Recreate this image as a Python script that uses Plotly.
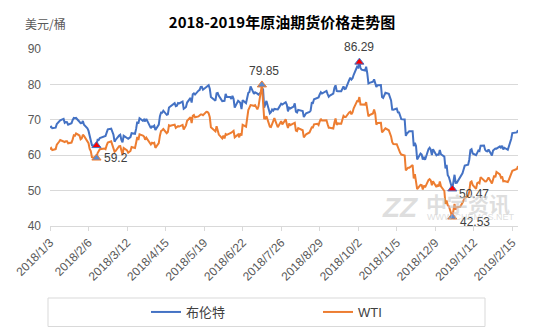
import plotly.graph_objects as go

# Daily settlement prices (USD/bbl), 2018-01-03 .. 2019-02-20
dates = [
    "2018-01-03", "2018-01-04", "2018-01-05", "2018-01-08", "2018-01-09", "2018-01-10", "2018-01-11", "2018-01-12",
    "2018-01-15", "2018-01-16", "2018-01-17", "2018-01-18", "2018-01-19", "2018-01-22", "2018-01-23", "2018-01-24",
    "2018-01-25", "2018-01-26", "2018-01-29", "2018-01-30", "2018-01-31", "2018-02-01", "2018-02-02", "2018-02-05",
    "2018-02-06", "2018-02-07", "2018-02-08", "2018-02-09", "2018-02-12", "2018-02-13", "2018-02-14", "2018-02-15",
    "2018-02-16", "2018-02-20", "2018-02-21", "2018-02-22", "2018-02-23", "2018-02-26", "2018-02-27", "2018-02-28",
    "2018-03-01", "2018-03-02", "2018-03-05", "2018-03-06", "2018-03-07", "2018-03-08", "2018-03-09", "2018-03-12",
    "2018-03-13", "2018-03-14", "2018-03-15", "2018-03-16", "2018-03-19", "2018-03-20", "2018-03-21", "2018-03-22",
    "2018-03-23", "2018-03-26", "2018-03-27", "2018-03-28", "2018-03-29", "2018-04-02", "2018-04-03", "2018-04-04",
    "2018-04-05", "2018-04-06", "2018-04-09", "2018-04-10", "2018-04-11", "2018-04-12", "2018-04-13", "2018-04-16",
    "2018-04-17", "2018-04-18", "2018-04-19", "2018-04-20", "2018-04-23", "2018-04-24", "2018-04-25", "2018-04-26",
    "2018-04-27", "2018-04-30", "2018-05-01", "2018-05-02", "2018-05-03", "2018-05-04", "2018-05-07", "2018-05-08",
    "2018-05-09", "2018-05-10", "2018-05-11", "2018-05-14", "2018-05-15", "2018-05-16", "2018-05-17", "2018-05-18",
    "2018-05-21", "2018-05-22", "2018-05-23", "2018-05-24", "2018-05-25", "2018-05-29", "2018-05-30", "2018-05-31",
    "2018-06-01", "2018-06-04", "2018-06-05", "2018-06-06", "2018-06-07", "2018-06-08", "2018-06-11", "2018-06-12",
    "2018-06-13", "2018-06-14", "2018-06-15", "2018-06-18", "2018-06-19", "2018-06-20", "2018-06-21", "2018-06-22",
    "2018-06-25", "2018-06-26", "2018-06-27", "2018-06-28", "2018-06-29", "2018-07-02", "2018-07-03", "2018-07-05",
    "2018-07-06", "2018-07-09", "2018-07-10", "2018-07-11", "2018-07-12", "2018-07-13", "2018-07-16", "2018-07-17",
    "2018-07-18", "2018-07-19", "2018-07-20", "2018-07-23", "2018-07-24", "2018-07-25", "2018-07-26", "2018-07-27",
    "2018-07-30", "2018-07-31", "2018-08-01", "2018-08-02", "2018-08-03", "2018-08-06", "2018-08-07", "2018-08-08",
    "2018-08-09", "2018-08-10", "2018-08-13", "2018-08-14", "2018-08-15", "2018-08-16", "2018-08-17", "2018-08-20",
    "2018-08-21", "2018-08-22", "2018-08-23", "2018-08-24", "2018-08-27", "2018-08-28", "2018-08-29", "2018-08-30",
    "2018-08-31", "2018-09-04", "2018-09-05", "2018-09-06", "2018-09-07", "2018-09-10", "2018-09-11", "2018-09-12",
    "2018-09-13", "2018-09-14", "2018-09-17", "2018-09-18", "2018-09-19", "2018-09-20", "2018-09-21", "2018-09-24",
    "2018-09-25", "2018-09-26", "2018-09-27", "2018-09-28", "2018-10-01", "2018-10-02", "2018-10-03", "2018-10-04",
    "2018-10-05", "2018-10-08", "2018-10-09", "2018-10-10", "2018-10-11", "2018-10-12", "2018-10-15", "2018-10-16",
    "2018-10-17", "2018-10-18", "2018-10-19", "2018-10-22", "2018-10-23", "2018-10-24", "2018-10-25", "2018-10-26",
    "2018-10-29", "2018-10-30", "2018-10-31", "2018-11-01", "2018-11-02", "2018-11-05", "2018-11-06", "2018-11-07",
    "2018-11-08", "2018-11-09", "2018-11-12", "2018-11-13", "2018-11-14", "2018-11-15", "2018-11-16", "2018-11-19",
    "2018-11-20", "2018-11-21", "2018-11-22", "2018-11-23", "2018-11-26", "2018-11-27", "2018-11-28", "2018-11-29",
    "2018-11-30", "2018-12-03", "2018-12-04", "2018-12-05", "2018-12-06", "2018-12-07", "2018-12-10", "2018-12-11",
    "2018-12-12", "2018-12-13", "2018-12-14", "2018-12-17", "2018-12-18", "2018-12-19", "2018-12-20", "2018-12-21",
    "2018-12-24", "2018-12-26", "2018-12-27", "2018-12-28", "2018-12-31", "2019-01-02", "2019-01-03", "2019-01-04",
    "2019-01-07", "2019-01-08", "2019-01-09", "2019-01-10", "2019-01-11", "2019-01-14", "2019-01-15", "2019-01-16",
    "2019-01-17", "2019-01-18", "2019-01-21", "2019-01-22", "2019-01-23", "2019-01-24", "2019-01-25", "2019-01-28",
    "2019-01-29", "2019-01-30", "2019-01-31", "2019-02-01", "2019-02-04", "2019-02-05", "2019-02-06", "2019-02-07",
    "2019-02-08", "2019-02-11", "2019-02-12", "2019-02-13", "2019-02-14", "2019-02-15", "2019-02-18", "2019-02-19",
    "2019-02-20",
]

brent = [
    67.84, 68.07, 67.62, 67.78, 68.82, 69.20, 69.26, 69.87,
    70.26, 69.15, 69.38, 69.31, 68.61, 69.03, 69.96, 70.53,
    70.42, 70.52, 69.46, 69.02, 69.05, 69.65, 68.58, 67.62,
    66.86, 65.51, 64.81, 62.79, 62.59, 62.72, 64.36, 64.33,
    64.84, 65.25, 65.42, 66.39, 67.31, 67.50, 66.63, 65.78,
    63.83, 64.37, 65.54, 65.79, 64.34, 63.61, 65.49, 64.95,
    64.64, 64.89, 65.12, 66.21, 66.05, 67.42, 69.47, 68.91,
    70.45, 69.72, 70.11, 69.53, 70.27, 67.64, 68.12, 68.02,
    68.33, 67.11, 68.65, 71.04, 72.06, 72.02, 72.58, 71.42,
    71.58, 73.48, 73.78, 74.06, 74.71, 73.86, 74.00, 74.74,
    74.64, 75.17, 73.13, 73.36, 73.62, 74.87, 76.17, 74.85,
    77.21, 77.47, 77.12, 78.23, 78.43, 79.28, 79.30, 78.51,
    79.22, 79.57, 79.80, 78.79, 76.44, 75.39, 77.50, 77.59,
    76.79, 75.29, 75.38, 75.36, 77.32, 76.46, 76.46, 75.88,
    76.74, 75.94, 73.44, 75.34, 75.08, 74.74, 73.05, 75.55,
    74.73, 76.31, 77.62, 77.85, 79.44, 77.30, 77.76, 77.39,
    77.11, 78.07, 78.86, 73.40, 74.45, 75.33, 71.84, 72.16,
    72.90, 72.58, 73.07, 72.91, 73.44, 73.93, 74.54, 74.29,
    74.97, 74.25, 72.39, 73.45, 73.21, 73.75, 74.65, 72.28,
    72.07, 72.81, 72.61, 72.46, 70.76, 71.43, 71.83, 72.21,
    72.63, 74.78, 74.73, 75.82, 76.21, 76.31, 77.14, 77.77,
    77.42, 78.17, 77.27, 76.50, 76.83, 77.37, 79.06, 79.74,
    78.18, 78.09, 78.05, 79.03, 79.40, 78.70, 78.80, 81.20,
    81.87, 81.34, 81.72, 82.72, 84.98, 84.80, 86.29, 84.58,
    84.16, 83.91, 85.00, 83.09, 80.26, 80.43, 80.78, 81.41,
    80.05, 79.29, 79.78, 79.83, 76.44, 76.17, 76.89, 77.62,
    77.34, 76.31, 75.47, 72.89, 72.83, 73.17, 72.13, 72.07,
    70.65, 70.18, 70.12, 65.47, 66.12, 66.62, 66.76, 66.79,
    62.53, 63.48, 62.60, 58.80, 60.48, 60.21, 58.76, 59.51,
    58.71, 61.69, 62.08, 61.56, 60.06, 61.67, 59.97, 60.20,
    60.15, 61.45, 60.28, 59.61, 56.26, 57.24, 54.35, 53.82,
    50.47, 54.47, 52.16, 52.20, 53.80, 54.91, 55.95, 57.06,
    57.33, 58.72, 61.44, 61.68, 60.48, 59.99, 60.64, 61.32,
    61.18, 62.70, 62.74, 61.50, 61.14, 61.09, 61.64, 59.93,
    61.32, 61.65, 61.89, 61.84, 62.51, 61.98, 62.69, 61.63,
    62.10, 61.51, 62.42, 63.61, 64.57, 66.25, 66.50, 66.45,
    67.08,
]

# None = no WTI settlement on that day (US holiday)
wti = [
    61.63, 62.01, 61.44, 61.73, 62.96, 63.57, 63.80, 64.30,
    None, 63.73, 63.97, 63.95, 63.37, 63.57, 64.47, 65.61,
    65.51, 66.14, 65.56, 64.50, 64.73, 65.80, 65.45, 64.15,
    63.39, 61.79, 61.15, 59.45, 59.29, 59.20, 60.60, 61.34,
    61.68, 61.90, 61.68, 62.77, 63.55, 63.91, 63.01, 61.64,
    60.99, 61.25, 62.57, 62.60, 61.15, 60.12, 62.04, 61.36,
    60.71, 60.96, 61.19, 62.34, 62.06, 63.54, 65.17, 64.30,
    65.88, 65.55, 65.25, 64.38, 64.94, 63.01, 63.51, 63.37,
    63.54, 62.06, 63.42, 65.51, 66.82, 67.07, 67.39, 66.22,
    66.52, 68.47, 68.29, 68.38, 68.64, 67.70, 68.05, 68.19,
    68.10, 68.57, 67.25, 67.93, 68.43, 69.72, 70.73, 69.06,
    71.14, 71.36, 70.70, 70.96, 71.31, 71.49, 71.49, 71.28,
    72.24, 72.20, 71.84, 70.71, 67.88, 66.73, 68.21, 67.04,
    65.81, 64.75, 65.52, 64.73, 65.95, 65.74, 66.10, 66.36,
    66.64, 66.89, 65.06, 65.85, 65.07, 66.22, 65.54, 68.58,
    68.08, 70.53, 72.76, 73.45, 74.15, 73.94, 74.14, 72.94,
    73.80, 79.85, 74.11, 70.38, 70.33, 71.01, 68.06, 67.95,
    68.76, 69.46, 70.46, 67.89, 68.52, 69.30, 69.61, 68.69,
    70.13, 68.76, 67.66, 68.96, 68.49, 69.01, 69.17, 66.94,
    66.81, 67.63, 67.20, 67.04, 65.01, 65.46, 65.91, 66.43,
    67.35, 67.86, 67.83, 68.72, 68.87, 68.53, 69.51, 70.25,
    69.80, 69.87, 68.72, 67.77, 67.75, 67.54, 69.25, 70.37,
    68.59, 68.99, 68.91, 69.85, 71.12, 70.80, 70.78, 72.08,
    72.28, 71.57, 72.12, 73.25, 75.30, 75.23, 76.41, 74.33,
    74.34, 74.29, 74.96, 73.17, 70.97, 71.34, 71.78, 72.92,
    71.75, 68.65, 69.12, 69.17, 66.43, 66.82, 67.33, 67.59,
    67.04, 66.18, 65.31, 63.69, 63.14, 63.10, 62.21, 61.67,
    60.67, 60.19, 59.93, 55.69, 56.25, 56.46, 56.46, 57.20,
    53.43, 54.63, None, 50.42, 51.63, 51.56, 50.29, 51.45,
    50.93, 52.95, 53.25, 52.89, 51.49, 52.61, 51.00, 51.65,
    51.15, 52.58, 51.20, 49.88, 46.24, 47.20, 45.88, 45.59,
    42.53, 46.22, 44.61, 45.33, 45.41, 46.54, 47.09, 47.96,
    48.52, 49.78, 52.36, 52.59, 51.59, 50.51, 52.11, 52.31,
    52.07, 53.80, None, 52.57, 52.62, 53.13, 53.69, 51.99,
    53.31, 54.23, 53.79, 55.26, 54.56, 53.66, 54.01, 52.64,
    52.72, 52.41, 53.10, 53.90, 54.41, 55.59, None, 56.09,
    56.92,
]

# Axis ticks every 34 days
tick_dates = ["2018-01-03", "2018-02-06", "2018-03-12", "2018-04-15", "2018-05-19", "2018-06-22",
              "2018-07-26", "2018-08-29", "2018-10-02", "2018-11-05", "2018-12-09", "2019-01-12",
              "2019-02-15"]
tick_labels = ["2018/1/3", "2018/2/6", "2018/3/12", "2018/4/15", "2018/5/19", "2018/6/22",
               "2018/7/26", "2018/8/29", "2018/10/2", "2018/11/5", "2018/12/9", "2019/1/12",
               "2019/2/15"]

# Highlighted points and whether their value is printed
brent_marks = ["2018-02-13", "2018-10-03", "2018-12-24"]
brent_mark_labels = [False, True, True]
wti_marks = ["2018-02-13", "2018-07-09", "2018-12-24"]
wti_mark_labels = [True, True, True]

BLUE = "#4472C4"
ORANGE = "#ED7D31"
TXT = "#595959"
GRID = "#D9D9D9"
WM = "rgba(200,200,200,0.6)"
FONT = "Liberation Sans, Noto Sans CJK SC, sans-serif"

# plot-area geometry in pixels, used to place the decorations in paper space
PL, PR, PT, PB = 50, 518, 49, 226


def px(xp):
    return (xp - PL) / (PR - PL)


def py(yp):
    return (PB - yp) / (PB - PT)


fig = go.Figure()
fig.add_trace(go.Scatter(x=dates, y=brent, mode="lines", name="布伦特",
                         line=dict(color=BLUE, width=2), connectgaps=True))
fig.add_trace(go.Scatter(x=dates, y=wti, mode="lines", name="WTI",
                         line=dict(color=ORANGE, width=2), connectgaps=True))


def lookup(series, d):
    return series[dates.index(d)]


fig.add_trace(go.Scatter(
    x=brent_marks, y=[lookup(brent, d) for d in brent_marks], mode="markers", showlegend=False,
    marker=dict(symbol="triangle-up", size=8, color="#FF0000", line=dict(color=BLUE, width=1))))
fig.add_trace(go.Scatter(
    x=wti_marks, y=[lookup(wti, d) for d in wti_marks], mode="markers", showlegend=False,
    marker=dict(symbol="triangle-up", size=8, color="#5B8BD0", line=dict(color=ORANGE, width=1))))

# Value labels next to the highlighted points
label_pos = {
    ("b", "2018-10-03"): dict(xanchor="center", yanchor="bottom", xshift=0, yshift=6),
    ("b", "2018-12-24"): dict(xanchor="left", yanchor="middle", xshift=5, yshift=-5),
    ("w", "2018-02-13"): dict(xanchor="left", yanchor="middle", xshift=6, yshift=0),
    ("w", "2018-07-09"): dict(xanchor="center", yanchor="bottom", xshift=2, yshift=5),
    ("w", "2018-12-24"): dict(xanchor="left", yanchor="middle", xshift=6, yshift=-5),
}
for key, series, marks, shown in (("b", brent, brent_marks, brent_mark_labels),
                                  ("w", wti, wti_marks, wti_mark_labels)):
    for d, s in zip(marks, shown):
        if not s:
            continue
        v = lookup(series, d)
        fig.add_annotation(x=d, y=v, text=f"{v:g}", showarrow=False,
                           font=dict(size=12, color="#404040", family=FONT),
                           **label_pos[(key, d)])

# Source watermark
fig.add_annotation(xref="paper", yref="paper", x=px(380), y=py(207), xanchor="left", yanchor="middle",
                   text="<b><i>ZZ</i></b>", showarrow=False,
                   font=dict(size=28, color=WM, family=FONT))
fig.add_annotation(xref="paper", yref="paper", x=px(424), y=py(203), xanchor="left", yanchor="middle",
                   text="<b>中宇资讯</b>", showarrow=False,
                   font=dict(size=21, color=WM, family="Noto Sans CJK SC"))
fig.add_annotation(xref="paper", yref="paper", x=px(425), y=py(217), xanchor="left", yanchor="middle",
                   text="WWW.CHEMCS.NET", showarrow=False,
                   font=dict(size=9, color=WM, family=FONT))

# Unit label
fig.add_annotation(xref="paper", yref="paper", x=px(23), y=py(23),
                   xanchor="left", yanchor="middle", text="美元/桶", showarrow=False,
                   font=dict(size=12, color=TXT, family="Noto Sans CJK SC"))

# Legend frame
fig.add_shape(type="rect", xref="paper", yref="paper",
              x0=px(48), x1=px(485), y0=py(326.5), y1=py(298),
              line=dict(color=GRID, width=1), fillcolor="rgba(0,0,0,0)")

fig.update_layout(
    width=554, height=332,
    margin=dict(l=PL, r=554 - PR, t=PT, b=332 - PB),
    paper_bgcolor="white", plot_bgcolor="white",
    font=dict(family=FONT, size=12, color=TXT),
    title=dict(text="<b>2018-2019年原油期货价格走势图</b>", x=0.509, xref="container",
               y=1 - 22.5 / 332, yref="container", xanchor="center", yanchor="middle",
               font=dict(size=15, color="#000000", family="Noto Sans CJK SC")),
    showlegend=True,
    legend=dict(orientation="h", xref="container", yref="container",
                x=146 / 554, y=1 - 312 / 332, xanchor="left", yanchor="middle",
                font=dict(size=13, color="#404040", family=FONT),
                entrywidth=127, bgcolor="rgba(0,0,0,0)", borderwidth=0),
    xaxis=dict(type="date", range=["2018-01-03", "2019-02-20"],
               tickvals=tick_dates, ticktext=tick_labels, tickangle=-45,
               ticks="outside", ticklen=4, tickcolor=GRID,
               showgrid=False, showline=True, linecolor=GRID, linewidth=1,
               tickfont=dict(size=12, color=TXT), zeroline=False),
    yaxis=dict(range=[40, 90], dtick=10, tick0=40, showgrid=True, gridcolor=GRID,
               gridwidth=1, zeroline=False, showline=False, ticks="",
               tickfont=dict(size=12, color=TXT), ticklabelstandoff=8),
)

fig.write_html("out.html")
